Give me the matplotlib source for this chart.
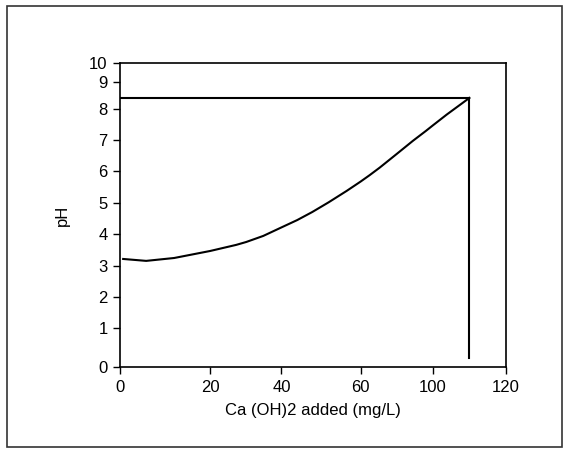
import numpy as np
import matplotlib
matplotlib.use("Agg")
import matplotlib.pyplot as plt
from matplotlib.patches import Rectangle

# Tick labels and the (irregular) positions they occupy on the original axes (pixels)
x_tick_vals = [0, 20, 40, 60, 100, 120]
x_tick_pix = [121, 211, 282, 361, 433, 506]
y_tick_vals = [0, 1, 2, 3, 4, 5, 6, 7, 8, 9, 10]
y_tick_pix = [367, 328, 297, 266, 234, 203, 171, 140, 109, 82, 63]

# Titration curve: Ca(OH)2 added (mg/L) vs pH
dose = [0.7, 5.8, 12, 20, 27.3, 30.1, 34.9, 39.4, 44, 47.8, 51.9, 56.5, 60, 65, 70.6,
        80, 88.9, 96.1, 100, 103.8, 110]
ph = [3.22, 3.16, 3.25, 3.47, 3.66, 3.75, 3.94, 4.18, 4.45, 4.71, 5.02, 5.38, 5.67, 5.87, 6.11,
      6.55, 6.97, 7.29, 7.47, 7.82, 8.41]

# Guide lines at the end point
end_dose = 110
end_ph = 8.41
drop_ph = 0.23

plt.rcParams['font.family'] = ['Liberation Sans', 'DejaVu Sans']

fig = plt.figure(figsize=(5.66, 4.49), dpi=100)
W, H = 566, 449
ax = fig.add_axes([120 / W, (H - 367) / H, (506 - 120) / W, (367 - 63) / H])

xp = np.array(x_tick_pix, float)
xv = np.array(x_tick_vals, float)
yp = -np.array(y_tick_pix, float)
yv = np.array(y_tick_vals, float)

ax.set_xscale('function', functions=(lambda v: np.interp(v, xv, xp),
                                     lambda p: np.interp(p, xp, xv)))
ax.set_yscale('function', functions=(lambda v: np.interp(v, yv, yp),
                                     lambda p: np.interp(p, yp, yv)))

ax.plot(dose, ph, color='black', lw=1.5)
ax.plot([0, end_dose], [end_ph, end_ph], color='black', lw=1.5)
ax.plot([end_dose, end_dose], [end_ph, drop_ph], color='black', lw=1.5)

ax.set_xlim(0, 120)
ax.set_ylim(0, 10)
ax.set_xticks(x_tick_vals)
ax.set_xticklabels([str(v) for v in x_tick_vals])
ax.set_yticks(y_tick_vals)
ax.set_yticklabels([str(v) for v in y_tick_vals])
ax.minorticks_off()
ax.tick_params(axis='both', direction='out', length=5, width=1, labelsize=12, colors='black', pad=4)
for s in ax.spines.values():
    s.set_linewidth(1.2)
    s.set_color('black')

ax.set_xlabel('Ca (OH)2 added (mg/L)', fontsize=12, labelpad=6)
ax.set_ylabel('pH', fontsize=12, labelpad=14)

fig.patches.append(Rectangle((7 / W, (H - 447) / H), (562 - 7) / W, (447 - 6) / H,
                             transform=fig.transFigure, fill=False, edgecolor='#333333', lw=1.2))

fig.savefig('out.png', dpi=100)
